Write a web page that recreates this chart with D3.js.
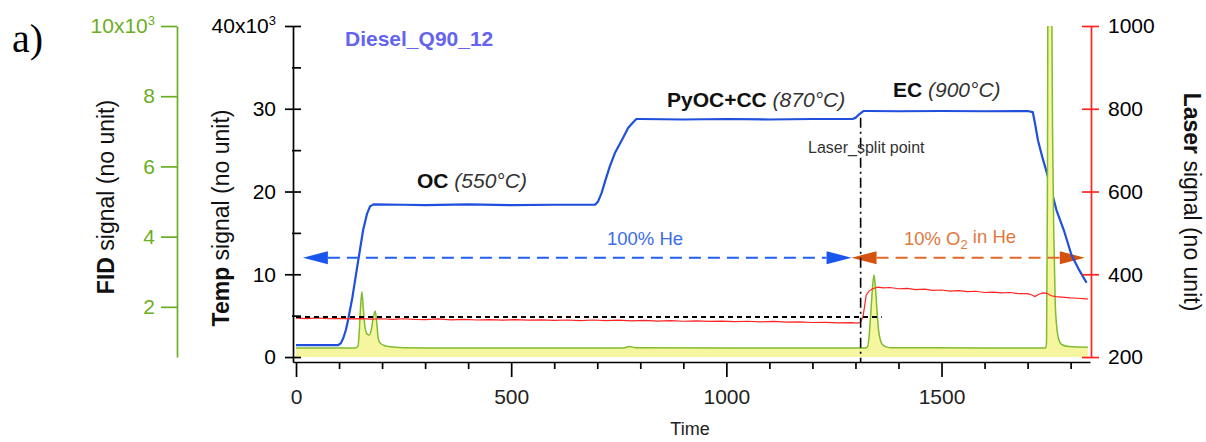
<!DOCTYPE html>
<html>
<head>
<meta charset="utf-8">
<script src="https://cdn.jsdelivr.net/npm/d3@7"></script>
<style>
  html, body { margin: 0; padding: 0; background: #fff; }
  text { font-family: Arial, "Liberation Sans", sans-serif; }
</style>
</head>
<body>
<div id="chart"></div>
<script>
// Diesel_Q90_12 thermogram: temperature, FID and laser signals vs time

// Temperature signal (blue)
var tempTime = [0, 98, 104, 110, 116, 121, 131, 141, 156, 165, 172, 180, 250, 300, 400, 500, 600, 695,
    702, 710, 718, 729, 741, 757, 772, 784, 791, 800, 900, 1000, 1100, 1200, 1293, 1300, 1308, 1319,
    1330, 1400, 1500, 1600, 1700, 1712, 1718, 1724, 1735, 1745, 1761, 1767, 1785, 1802, 1820, 1837];
var tempValue = [1450, 1450, 1650, 2300, 3300, 4470, 7200, 10500, 15350, 17300, 18200, 18450, 18400,
    18350, 18450, 18350, 18400, 18400, 18800, 19800, 21200, 23000, 24650, 26200, 27700, 28400, 28760,
    28760, 28700, 28760, 28700, 28760, 28760, 28900, 29300, 29730, 29730, 29700, 29730, 29700, 29730,
    29600, 28000, 26200, 24000, 22200, 18970, 17760, 15200, 12330, 10500, 8980];

// FID signal (green, filled)
var fidTime = [0, 138, 144, 147, 150, 153, 156, 160, 165, 170, 175, 179, 184, 188, 191, 196, 205, 215,
    230, 250, 300, 760, 775, 790, 1000, 1322, 1328, 1332, 1336, 1340, 1343, 1346, 1350, 1354, 1358,
    1363, 1372, 1385, 1600, 1742, 1744, 1746, 1748, 1754, 1756, 1758, 1761, 1764, 1768, 1773, 1780,
    1795, 1840];
var fidValue = [830, 830, 880, 1300, 2000, 2430, 2000, 1450, 1230, 1200, 1350, 1650, 1880, 1500, 1100,
    960, 900, 870, 850, 835, 830, 830, 870, 835, 830, 830, 860, 1200, 1900, 2600, 2906, 2600, 1900, 1300,
    1050, 920, 860, 835, 830, 830, 1000, 5000, 14000, 14000, 11000, 7000, 4000, 2200, 1400, 1050, 920,
    870, 850];

// Laser signal (red)
var laserTime = [0, 25, 50, 75, 100, 125, 150, 175, 200, 225, 250, 275, 300, 330, 360, 390, 420, 450,
    480, 510, 540, 570, 600, 630, 660, 690, 720, 750, 780, 810, 840, 870, 900, 930, 960, 990, 1020,
    1050, 1080, 1110, 1140, 1170, 1200, 1230, 1260, 1290, 1305, 1312, 1318, 1325, 1332, 1340, 1352,
    1365, 1380, 1400, 1420, 1440, 1460, 1480, 1500, 1520, 1540, 1560, 1580, 1600, 1620, 1640, 1660,
    1680, 1700, 1710, 1717, 1725, 1735, 1745, 1755, 1765, 1780, 1800, 1815, 1830, 1840];
var laserValue = [294, 293, 294.5, 292.5, 293.5, 292, 293, 291.5, 292.5, 291, 292.5, 291, 290.5, 292,
    290, 291, 289.5, 290.5, 289, 290.5, 289, 290, 288.5, 289.5, 288, 289.5, 288, 289, 287.5, 288.5, 287,
    288, 286.5, 287.5, 286, 287, 285.5, 286.5, 285, 286, 284.5, 285, 283.5, 284, 282.5, 283, 282, 284,
    300, 350, 360, 365, 369, 367, 368, 365, 366, 363, 364, 361, 362, 359.5, 360.5, 358, 359, 356, 357,
    355, 356, 353, 353, 350, 346, 351, 355, 354, 348, 346, 345, 343, 342, 341, 340];

// Ticks
var timeTicks = [0, 500, 1000, 1500];
var timeMinor = [100, 200, 300, 400, 600, 700, 800, 900, 1100, 1200, 1300, 1400, 1600, 1700, 1800];
var tempTicks = [0, 10000, 20000, 30000, 40000];
var tempMinor = [5000, 15000, 25000, 35000];
var fidTicks = [2000, 4000, 6000, 8000, 10000];
var laserTicks = [200, 400, 600, 800, 1000];

// Annotations (data units)
var splitTime = 1312;
var splitLevel = 297;
var splitEnd = 1361;
var heFrom = 16, heTo = 1291, o2To = 1833, arrowLevel = 12000;

var W = 1206, H = 442;
var BLUE = "#1f4fdc", RED = "#ff2424", GREEN = "#6aae22", FIDLINE = "#80bb30",
    YELLOW = "#f6f6a0", ORANGE = "#d4520c";

var svg = d3.select("#chart").append("svg")
    .attr("width", W).attr("height", H);

var x = d3.scaleLinear().domain([-7, 1845]).range([293, 1090]);
var yTemp = d3.scaleLinear().domain([-600, 40000]).range([362, 26]);
var yLaser = d3.scaleLinear().domain([200, 1000]).range([yTemp(0), yTemp(40000)]);
var yFid = d3.scaleLinear().domain([570, 10000]).range([yTemp(0), yTemp(40000)]);

function zip(t, v) { return t.map(function (d, i) { return { t: d, v: v[i] }; }); }
var tempData = zip(tempTime, tempValue);
var fidData = zip(fidTime, fidValue);
var laserData = zip(laserTime, laserValue);

svg.append("clipPath").attr("id", "plot")
    .append("rect")
    .attr("x", x.range()[0]).attr("y", yTemp.range()[1])
    .attr("width", x.range()[1] - x.range()[0])
    .attr("height", yTemp.range()[0] - yTemp.range()[1]);

var plot = svg.append("g").attr("clip-path", "url(#plot)");

// Arrowheads (drawn first, blue line passes over them)
function arrowHead(tip, y, dir, color) {
    plot.append("path")
        .attr("d", "M" + tip + "," + y + "L" + (tip - dir * 25) + "," + (y - 6.5) +
            "L" + (tip - dir * 25) + "," + (y + 6.5) + "Z")
        .attr("fill", color);
}
var ay = yTemp(arrowLevel);
arrowHead(x(heFrom), ay, -1, "#1a55ee");
arrowHead(x(heTo), ay, 1, "#1a55ee");
arrowHead(x(heTo), ay, -1, ORANGE);
arrowHead(x(o2To), ay, 1, ORANGE);

// Temperature line
plot.append("path")
    .datum(tempData)
    .attr("d", d3.line().x(function (d) { return x(d.t); }).y(function (d) { return yTemp(d.v); }))
    .attr("fill", "none").attr("stroke", BLUE).attr("stroke-width", 2.2)
    .attr("stroke-linejoin", "round");

// FID area + line
var fidCurve = d3.curveMonotoneX;
plot.append("path")
    .datum(fidData)
    .attr("d", d3.area().x(function (d) { return x(d.t); })
        .y0(yFid(570)).y1(function (d) { return yFid(d.v); }).curve(fidCurve))
    .attr("fill", YELLOW);
plot.append("path")
    .datum(fidData)
    .attr("d", d3.line().x(function (d) { return x(d.t); })
        .y(function (d) { return yFid(d.v); }).curve(fidCurve))
    .attr("fill", "none").attr("stroke", FIDLINE).attr("stroke-width", 1.5);

// Dashed gas-phase lines
plot.append("line")
    .attr("x1", x(heFrom) + 25).attr("x2", x(heTo) - 25).attr("y1", ay).attr("y2", ay)
    .attr("stroke", "#2360ee").attr("stroke-width", 2).attr("stroke-dasharray", "12,7");
plot.append("line")
    .attr("x1", x(heTo) + 25).attr("x2", x(o2To) - 25).attr("y1", ay).attr("y2", ay)
    .attr("stroke", "#e06a2a").attr("stroke-width", 2).attr("stroke-dasharray", "12,7");

// Laser line
plot.append("path")
    .datum(laserData)
    .attr("d", d3.line().x(function (d) { return x(d.t); }).y(function (d) { return yLaser(d.v); }))
    .attr("fill", "none").attr("stroke", RED).attr("stroke-width", 1.2);

// Laser split point
plot.append("line")
    .attr("x1", x(0)).attr("x2", x(splitEnd))
    .attr("y1", yLaser(splitLevel)).attr("y2", yLaser(splitLevel))
    .attr("stroke", "#000").attr("stroke-width", 2).attr("stroke-dasharray", "5,4");
plot.append("line")
    .attr("x1", x(splitTime)).attr("x2", x(splitTime))
    .attr("y1", yTemp(28900)).attr("y2", yTemp.range()[0])
    .attr("stroke", "#000").attr("stroke-width", 1.6).attr("stroke-dasharray", "10,4,2,4");

// Axes
var plain = d3.format("d");
function styleAxis(g, color, size) {
    g.attr("color", color).attr("font-size", size)
        .attr("font-family", "Arial, 'Liberation Sans', sans-serif");
    g.selectAll("path, line").attr("stroke-width", 1.7);
}
function sup(g, value, base) {
    g.selectAll(".tick text").filter(function (d) { return d === value; })
        .text(base)
        .append("tspan").attr("dy", "-0.6em").attr("font-size", 13).text("3");
}

var xAxis = svg.append("g").attr("transform", "translate(0," + yTemp.range()[0] + ")")
    .call(d3.axisBottom(x).tickValues(timeTicks).tickSize(15).tickSizeOuter(0).tickPadding(12)
        .tickFormat(plain));
styleAxis(xAxis, "#000", 21);
xAxis.selectAll(".tick text").attr("fill", "#222");
var xMinor = svg.append("g").attr("transform", "translate(0," + yTemp.range()[0] + ")")
    .call(d3.axisBottom(x).tickValues(timeMinor).tickSize(7).tickFormat(""));
xMinor.select(".domain").remove();
styleAxis(xMinor, "#000", 21);

var tAxis = svg.append("g").attr("transform", "translate(293,0)")
    .call(d3.axisLeft(yTemp).tickValues(tempTicks).tickSize(8).tickSizeOuter(0).tickPadding(9)
        .tickFormat(function (d) { return d / 1000; }));
styleAxis(tAxis, "#000", 21);
tAxis.selectAll(".tick line").attr("x1", 8);
sup(tAxis, 40000, "40x10");
var tMinor = svg.append("g").attr("transform", "translate(293,0)")
    .call(d3.axisLeft(yTemp).tickValues(tempMinor).tickSize(1).tickFormat(""));
tMinor.select(".domain").remove();
styleAxis(tMinor, "#000", 21);
tMinor.selectAll(".tick line").attr("x1", 8);

var fAxis = svg.append("g").attr("transform", "translate(177,0)")
    .call(d3.axisLeft(yFid).tickValues(fidTicks).tickSize(16).tickSizeOuter(0).tickPadding(6)
        .tickFormat(function (d) { return d / 1000; }));
styleAxis(fAxis, GREEN, 21);
sup(fAxis, 10000, "10x10");

var lAxis = svg.append("g").attr("transform", "translate(1091,0)")
    .call(d3.axisRight(yLaser).tickValues(laserTicks).tickSize(8).tickSizeOuter(0).tickPadding(9)
        .tickFormat(plain));
styleAxis(lAxis, RED, 21);
lAxis.selectAll(".tick line").attr("x1", -9);
lAxis.selectAll(".tick text").attr("fill", "#000");

// Axis titles
function vTitle(cx, cy, angle, bold, rest) {
    var t = svg.append("text")
        .attr("transform", "translate(" + cx + "," + cy + ") rotate(" + angle + ")")
        .attr("text-anchor", "middle").attr("dy", "0.35em")
        .attr("font-size", 23).attr("fill", "#111");
    t.append("tspan").attr("font-weight", "bold").text(bold);
    t.append("tspan").text(rest);
}
vTitle(106, 197, -90, "FID", " signal (no unit)");
vTitle(221, 218, -90, "Temp", " signal (no unit)");
vTitle(1192, 202, 90, "Laser", " signal (no unit)");

svg.append("text").attr("x", 690).attr("y", 435).attr("text-anchor", "middle")
    .attr("font-size", 18).attr("fill", "#222").text("Time");

// Panel letter and sample name
svg.append("text").attr("x", 12).attr("y", 52)
    .style("font-family", "'Liberation Serif', 'Times New Roman', serif")
    .attr("font-size", 40).text("a)");
svg.append("text").attr("x", 345).attr("y", 46)
    .attr("font-size", 21).attr("font-weight", "bold").attr("fill", "#6464ee")
    .text("Diesel_Q90_12");

// Phase labels
function phase(px, py, bold, rest) {
    var t = svg.append("text").attr("x", px).attr("y", py).attr("font-size", 21).attr("fill", "#111");
    t.append("tspan").attr("font-weight", "bold").text(bold);
    t.append("tspan").attr("font-style", "italic").attr("fill", "#333").text(" " + rest);
}
phase(417, 188, "OC", "(550°C)");
phase(667, 107, "PyOC+CC", "(870°C)");
phase(893, 97, "EC", "(900°C)");

svg.append("text").attr("x", 808).attr("y", 153)
    .attr("font-size", 16).attr("fill", "#333").text("Laser_split point");

svg.append("text").attr("x", 645).attr("y", 245).attr("text-anchor", "middle")
    .attr("font-size", 18.5).attr("fill", "#3a6de8").text("100% He");

var o2 = svg.append("text").attr("x", 960).attr("y", 245).attr("text-anchor", "middle")
    .attr("font-size", 18.5).attr("fill", "#e0783e");
o2.append("tspan").text("10% O");
o2.append("tspan").attr("dy", "0.3em").attr("font-size", 13).text("2");
o2.append("tspan").attr("dy", "-0.3em").text(" in He");
</script>
</body>
</html>
